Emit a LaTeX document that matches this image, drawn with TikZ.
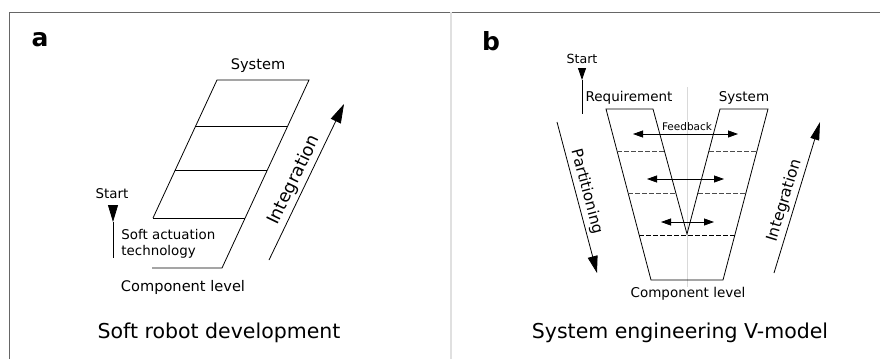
\documentclass[tikz,border=0pt]{standalone}
\usepackage{fontspec}
\setmainfont{DejaVu Sans}
\usetikzlibrary{arrows.meta}
\begin{document}
\begin{tikzpicture}[x=1pt,y=-1pt,line width=.8pt,>={Triangle[length=18pt,width=10pt]},
  lbl/.style={inner sep=1pt,font=\fontsize{14.6}{17}\selectfont},
  slbl/.style={inner sep=1pt,font=\fontsize{13.4}{16}\selectfont},
  title/.style={inner sep=1pt,font=\fontsize{20.5}{24}\selectfont},
  panel/.style={inner sep=0pt,font=\bfseries\fontsize{25}{25}\selectfont},
  fb/.style={<->,>={Triangle[length=10pt,width=7pt]}},
  level/.style={dash pattern=on 5pt off 2pt}]
\useasboundingbox (0,0) rectangle (880,359);
\draw[black!60,line width=1pt](9.5,359)--(9.5,12)--(880,12);
\draw[black!12,line width=2pt](451,12)--(451,359);
% a
\node[panel] (a) at (40,40) {a};
\draw (152,268)--(222,268)--(309,80)--(217,80)--(153,218);
\foreach \y in {126,170,218}
    \draw ({217-.463*(\y-80)},\y)--({309-.463*(\y-80)},\y);
\node[lbl] (sysa) at (258,66) {System};
\node[lbl] (compa) at (183,287) {Component level};
\node[slbl,anchor=west,align=left] (tech) at (120,244) {Soft actuation\\technology};
\node[slbl] (starta) at (112,194) {Start};
\coordinate (sa0) at (113,205);
\coordinate (sa1) at (113,222);
\coordinate (sa2) at (113,258);
\draw[->,>={Triangle[length=17pt,width=10pt]}] (sa0)--(sa1);
\draw (sa1)--(sa2);
\coordinate (ia0) at (269,260);
\coordinate (ia1) at (344,104);
\draw[->,>={Triangle[length=19pt,width=11pt]}] (ia0)--node[sloped,above,pos=.48,inner sep=3pt,font=\fontsize{17.6}{20}\selectfont]{Integration}(ia1);
\node[title] (ta) at (219,333) {Soft robot development};
% b
\node[panel] (b) at (491,41) {b};
\draw[black!15](687,87)--(687,287);
\draw (606,109)--(653,109)--(687,234)--(720,109)--(768,109)--(723,280)--(651,280)--cycle;
\draw[level,black!70](617,151)--(664,151) (709,151)--(757,151);
\draw[level,black!70](628,193)--(675,193) (698,193)--(746,193);
\draw[level](639,235)--(735,235);
\foreach \y/\l/\r in {134/633/738,179/647/724,222/661/714}
    \draw[fb](\l,\y)--(\r,\y);
\node[font=\fontsize{10.5}{12}\selectfont,inner sep=1pt] (fbk) at (687,127) {Feedback};
\node[lbl,font=\fontsize{13.5}{16}\selectfont] (req) at (629,98) {Requirement};
\node[lbl,font=\fontsize{13.5}{16}\selectfont] (sysb) at (744,98) {System};
\node[lbl,font=\fontsize{13.5}{16}\selectfont] (compb) at (688,294) {Component level};
\node[inner sep=1pt,font=\fontsize{12.6}{15}\selectfont] (startb) at (582,59) {Start};
\coordinate (sb0) at (582,68);
\coordinate (sb1) at (582,80);
\coordinate (sb2) at (582,114);
\draw[->,>={Triangle[length=12pt,width=8pt]}] (sb0)--(sb1);
\draw (sb1)--(sb2);
\coordinate (p0) at (557,122);
\coordinate (p1) at (597,273);
\draw[->,>={Triangle[length=17pt,width=10pt]}] (p0)--node[sloped,above,pos=.48,inner sep=3pt,font=\fontsize{15.2}{18}\selectfont]{Partitioning}(p1);
\coordinate (ib0) at (774,273);
\coordinate (ib1) at (820,122);
\draw[->,>={Triangle[length=18pt,width=9pt]}] (ib0)--node[sloped,above,pos=.46,inner sep=3pt,font=\fontsize{15.5}{18}\selectfont]{Integration}(ib1);
\node[title] (tb) at (680,333) {System engineering V-model};
\end{tikzpicture}
\end{document}
